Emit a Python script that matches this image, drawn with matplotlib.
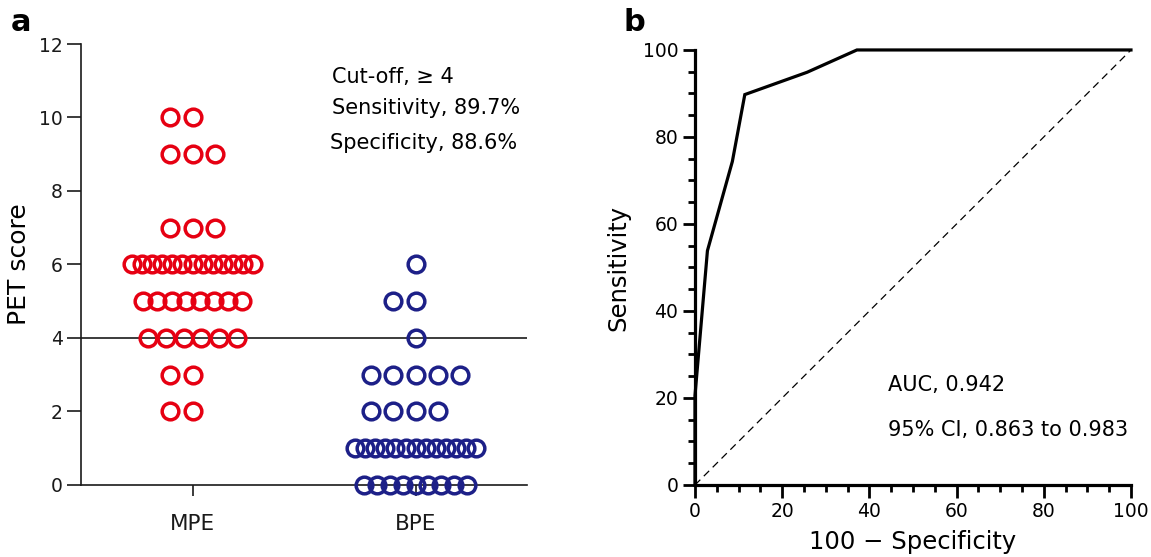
import numpy as np
import matplotlib
matplotlib.use("Agg")
import matplotlib.pyplot as plt
from matplotlib.ticker import MultipleLocator

plt.rcParams['font.family'] = ['DejaVu Sans']

# PET scores: level -> number of patients
mpe_levels = [10, 9, 7, 6, 5, 4, 3, 2]
mpe_counts = [2, 3, 3, 13, 8, 6, 2, 2]
bpe_levels = [6, 5, 4, 3, 2, 1, 0]
bpe_counts = [1, 2, 1, 5, 4, 13, 9]
groups = ["MPE", "BPE"]
cutoff = 4

RED = "#e60012"
BLUE = "#1d2088"
INK = "#1a1a1a"


def row_offsets(n):
    # GraphPad-like dot layout for one score level
    if n <= 5:
        return (np.arange(n) - n // 2) * 0.1
    w = 0.4 + 0.02 * (n - 6)
    return np.linspace(-w / 2, w / 2, n)


def expand(levels, counts):
    return np.concatenate([np.full(c, l) for l, c in zip(levels, counts)])


mpe = expand(mpe_levels, mpe_counts)
bpe = expand(bpe_levels, bpe_counts)

fig = plt.figure(figsize=(11.51, 5.57), dpi=100)

# ---- panel a: dot plot
ax1 = fig.add_axes([0.0704, 0.1293, 0.3875, 0.7917])
for gi, (levels, counts, col) in enumerate([(mpe_levels, mpe_counts, RED),
                                            (bpe_levels, bpe_counts, BLUE)]):
    for lev, n in zip(levels, counts):
        xs = gi + row_offsets(n)
        ax1.plot(xs, np.full(n, lev), 'o', ms=12, mfc='none', mec=col,
                 mew=2.5, clip_on=False, zorder=3)

ax1.axhline(cutoff, color=INK, lw=1.2, zorder=2)
ax1.set_xlim(-0.5, 1.5)
ax1.set_ylim(0, 12)
ax1.set_yticks(range(0, 13, 2))
ax1.set_xticks([0, 1])
ax1.set_xticklabels(groups, fontsize=15.5)
ax1.tick_params(axis='y', direction='out', length=10, width=1.2, labelsize=13.5,
                colors=INK, pad=3)
ax1.tick_params(axis='x', direction='out', length=8, width=1.2, pad=13,
                colors=INK)
for s in ['top', 'right']:
    ax1.spines[s].set_visible(False)
for s in ['left', 'bottom']:
    ax1.spines[s].set_linewidth(1.2)
    ax1.spines[s].set_color(INK)
ax1.set_ylabel("PET score", fontsize=18, labelpad=6)

ax1.text(0.627, 11.1, "Cut-off, \u2265 4", fontsize=15, va='center')
ax1.text(0.627, 10.26, "Sensitivity, 89.7%", fontsize=15, va='center')
ax1.text(0.615, 9.31, "Specificity, 88.6%", fontsize=15, va='center')

# ---- panel b: ROC curve derived from the scores
cuts = np.arange(max(mpe.max(), bpe.max()) + 1, -1, -1)
tpr = [100 * np.mean(mpe >= c) for c in cuts]
fpr = [100 * np.mean(bpe >= c) for c in cuts]

ax2 = fig.add_axes([0.6038, 0.1293, 0.3788, 0.781])
ax2.plot(fpr, tpr, color='black', lw=2.3, clip_on=False, zorder=3,
         solid_joinstyle='miter')
ax2.plot([0, 100], [0, 100], color='black', lw=0.9, ls=(0, (6, 4)))
ax2.set_xlim(0, 100)
ax2.set_ylim(0, 100)
ax2.xaxis.set_major_locator(MultipleLocator(20))
ax2.xaxis.set_minor_locator(MultipleLocator(5))
ax2.yaxis.set_major_locator(MultipleLocator(20))
ax2.yaxis.set_minor_locator(MultipleLocator(5))
ax2.tick_params(which='major', direction='out', length=9, width=2,
                labelsize=13.5, pad=3)
ax2.tick_params(which='minor', direction='out', length=5, width=2)
for s in ['top', 'right']:
    ax2.spines[s].set_visible(False)
for s in ['left', 'bottom']:
    ax2.spines[s].set_linewidth(2.3)
ax2.set_xlabel("100 \u2212 Specificity", fontsize=17.5, labelpad=7)
ax2.set_ylabel("Sensitivity", fontsize=17.5, labelpad=9)

ax2.text(44.3, 23.0, "AUC, 0.942", fontsize=15, va='center')
ax2.text(44.3, 12.6, "95% CI, 0.863 to 0.983", fontsize=15, va='center')

fig.text(0.018, 0.96, "a", fontsize=22, fontweight='bold', va='center', ha='center')
fig.text(0.551, 0.96, "b", fontsize=22, fontweight='bold', va='center', ha='center')

fig.savefig("out.png", dpi=100)
